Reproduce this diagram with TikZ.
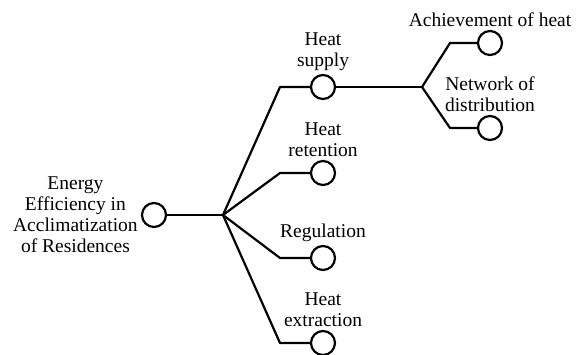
\documentclass[tikz,border=0pt]{standalone}
\usepackage{fontspec}
\setmainfont{Liberation Serif}
\usetikzlibrary{positioning}

\tikzset{
    leaf/.style={draw, circle, line width=2.2pt, minimum size=24pt, inner sep=0pt},
    branch/.style={line width=2.2pt},
    lbl/.style={align=center, inner sep=1pt, font=\fontsize{19.5}{21}\selectfont}
}

\begin{document}
\begin{tikzpicture}[x=1pt, y=-1pt]
    \useasboundingbox (0,0) rectangle (578,354);

    % Reference coordinates
    \coordinate (hub) at (223,215);
    \coordinate (bSupply) at (280,87);
    \coordinate (bRetention) at (280,173);
    \coordinate (bRegulation) at (280,258);
    \coordinate (bExtraction) at (280,343);

    \coordinate (hubSupply) at (422,87);
    \coordinate (bAchieve) at (450,43);
    \coordinate (bNetwork) at (450,128);

    % Circles
    \node[leaf] (root) at (154,215) {};
    \node[leaf] (supply) at (323,87) {};
    \node[leaf] (retention) at (323,173) {};
    \node[leaf] (regulation) at (323,258) {};
    \node[leaf] (extraction) at (323,343) {};
    \node[leaf] (achieve) at (490,43) {};
    \node[leaf] (network) at (490,128) {};

    % Labels
    \node[lbl, left=2pt of root] (rootText) {Energy\\Efficiency in\\Acclimatization\\of Residences};
    \node[lbl, above=2pt of supply] (supplyText) {Heat\\supply};
    \node[lbl, above=2pt of retention] (retentionText) {Heat\\retention};
    \node[lbl, above=2pt of regulation] (regulationText) {Regulation};
    \node[lbl, above=2pt of extraction] (extractionText) {Heat\\extraction};
    \node[lbl, above=2pt of achieve] (achieveText) {Achievement of heat};
    \node[lbl, above=2pt of network] (networkText) {Network of\\distribution};

    % root - hub
    \draw[branch] (root) -- (hub);

    % hub - first level
    \draw[branch, line join=round] (hub) -- (bSupply) -- (supply);
    \draw[branch, line join=round] (hub) -- (bRetention) -- (retention);
    \draw[branch, line join=round] (hub) -- (bRegulation) -- (regulation);
    \draw[branch, line join=round] (hub) -- (bExtraction) -- (extraction);

    % heat supply - second level
    \draw[branch] (supply) -- (hubSupply);
    \draw[branch, line join=round] (hubSupply) -- (bAchieve) -- (achieve);
    \draw[branch, line join=round] (hubSupply) -- (bNetwork) -- (network);

\end{tikzpicture}
\end{document}
